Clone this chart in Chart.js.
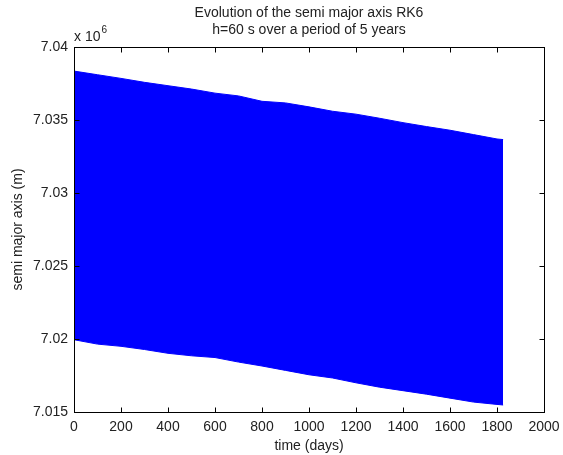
<!DOCTYPE html>
<html>
<head>
<meta charset="utf-8">
<script src="https://cdn.jsdelivr.net/npm/chart.js@4"></script>
<style>
  html, body { margin: 0; padding: 0; background: #fff; }
  #wrap { width: 563px; height: 455px; }
</style>
</head>
<body>
<div id="wrap"><canvas id="canvasAxis"></canvas></div>
<script>
"use strict";
// time in days, semi major axis in metres (envelope of the oscillation)
var days = [0, 100, 200, 300, 400, 500, 600, 700, 800, 900, 1000, 1100, 1200, 1300, 1400, 1500, 1600, 1700, 1800, 1826];
var upperAxis = [7038350, 7038100, 7037850, 7037580, 7037350, 7037120, 7036840, 7036650, 7036280, 7036170,
                 7035900, 7035600, 7035400, 7035120, 7034820, 7034550, 7034300, 7034000, 7033700, 7033660];
var lowerAxis = [7019950, 7019650, 7019500, 7019280, 7019020, 7018850, 7018730, 7018420, 7018150, 7017850,
                 7017550, 7017330, 7017000, 7016700, 7016460, 7016220, 7015950, 7015680, 7015520, 7015480];
var xTicks = [0, 200, 400, 600, 800, 1000, 1200, 1400, 1600, 1800, 2000];
var yTicks = [7015000, 7020000, 7025000, 7030000, 7035000, 7040000];
var titleLines = ["Evolution of the semi major axis RK6", "h=60 s over a period of 5 years"];

var FONT = "'Liberation Sans', Arial, Helvetica, sans-serif";

function toPoints(values) {
    var pts = [];
    for (var i = 0; i < days.length; i++) {
        pts.push({ x: days[i], y: values[i] });
    }
    return pts;
}

// matlab style box, inward ticks, title and exponent label
var matlabBox = {
    id: 'matlabBox',
    afterDraw: function (chart) {
        var ctx = chart.ctx;
        var a = chart.chartArea;
        var xs = chart.scales.x, ys = chart.scales.y;
        var L = Math.round(a.left) + 0.5, R = Math.round(a.right) + 0.5;
        var T = Math.round(a.top) + 0.5, B = Math.round(a.bottom) + 0.5;
        ctx.save();
        ctx.strokeStyle = '#000';
        ctx.lineWidth = 1;
        ctx.strokeRect(L, T, R - L, B - T);
        ctx.beginPath();
        xTicks.forEach(function (t) {
            var px = Math.round(xs.getPixelForValue(t)) + 0.5;
            ctx.moveTo(px, B); ctx.lineTo(px, B - 5);
            ctx.moveTo(px, T); ctx.lineTo(px, T + 5);
        });
        yTicks.forEach(function (t) {
            var py = Math.round(ys.getPixelForValue(t)) + 0.5;
            ctx.moveTo(L, py); ctx.lineTo(L + 5, py);
            ctx.moveTo(R, py); ctx.lineTo(R - 5, py);
        });
        ctx.stroke();

        ctx.fillStyle = '#222';
        ctx.font = '14px ' + FONT;
        ctx.textAlign = 'center';
        ctx.textBaseline = 'middle';
        var cx = (a.left + a.right) / 2;
        ctx.fillText(titleLines[0], cx, 13);
        ctx.fillText(titleLines[1], cx, 30);

        ctx.textAlign = 'left';
        ctx.textBaseline = 'alphabetic';
        ctx.fillText('x 10', a.left, 41);
        var w = ctx.measureText('x 10').width;
        ctx.font = '10px ' + FONT;
        ctx.fillText('6', a.left + w + 1, 33);
        ctx.restore();
    }
};

var context = document.getElementById('canvasAxis');
var myChart = new Chart(context, {
    type: 'line',
    data: {
        datasets: [{
            label: 'upper',
            data: toPoints(upperAxis),
            borderColor: '#0000FF',
            backgroundColor: '#0000FF',
            borderWidth: 1,
            pointRadius: 0,
            tension: 0,
            fill: '+1'
        }, {
            label: 'lower',
            data: toPoints(lowerAxis),
            borderColor: '#0000FF',
            backgroundColor: '#0000FF',
            borderWidth: 1,
            pointRadius: 0,
            tension: 0,
            fill: false
        }]
    },
    options: {
        responsive: true,
        maintainAspectRatio: false,
        animation: false,
        layout: { padding: { top: 47, left: 10, right: 19, bottom: 0 } },
        plugins: {
            legend: { display: false },
            title: { display: false },
            tooltip: { enabled: false }
        },
        scales: {
            x: {
                type: 'linear',
                min: 0,
                max: 2000,
                afterBuildTicks: function (s) {
                    s.ticks = xTicks.map(function (v) { return { value: v }; });
                },
                afterFit: function (s) {
                    s.height = 43;
                    s.paddingLeft = 0;
                    s.paddingRight = 0;
                },
                grid: { display: false, drawTicks: false },
                border: { display: false },
                ticks: {
                    color: '#222',
                    font: { family: FONT, size: 14 },
                    padding: 7,
                    maxRotation: 0,
                    autoSkip: false,
                    callback: function (v) { return String(v); }
                },
                title: {
                    display: true,
                    text: 'time (days)',
                    color: '#222',
                    font: { family: FONT, size: 14 },
                    padding: 0
                }
            },
            y: {
                type: 'linear',
                min: 7015000,
                max: 7040000,
                afterBuildTicks: function (s) {
                    s.ticks = yTicks.map(function (v) { return { value: v }; });
                },
                afterFit: function (s) {
                    s.width = 64;
                    s.paddingTop = 0;
                    s.paddingBottom = 0;
                },
                grid: { display: false, drawTicks: false },
                border: { display: false },
                ticks: {
                    color: '#222',
                    font: { family: FONT, size: 14 },
                    padding: 6,
                    autoSkip: false,
                    callback: function (v) { return parseFloat((v / 1e6).toFixed(3)).toString(); }
                },
                title: {
                    display: true,
                    text: 'semi major axis (m)',
                    color: '#222',
                    font: { family: FONT, size: 14 },
                    padding: 0
                }
            }
        }
    },
    plugins: [matlabBox]
});
</script>
</body>
</html>
